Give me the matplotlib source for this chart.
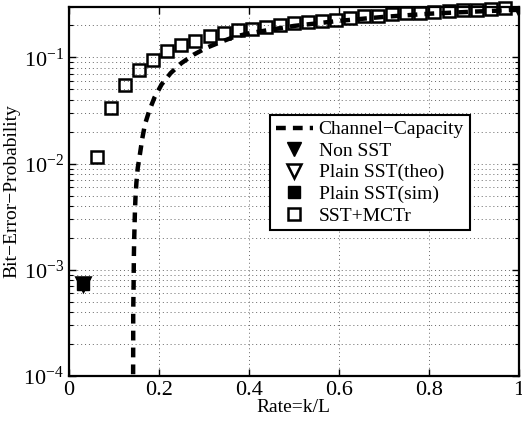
import numpy as np
import matplotlib
matplotlib.use("Agg")
import matplotlib.pyplot as plt

plt.rcParams['font.family'] = ['Liberation Serif', 'DejaVu Serif']
plt.rcParams['mathtext.fontset'] = 'stix'
plt.rcParams['font.size'] = 14

# --- data ---
L = 32
k_mctr = np.arange(2, 32)
ber_mctr = [0.0115, 0.0331, 0.0553, 0.0766, 0.095, 0.1146, 0.1315, 0.1435,
            0.1585, 0.1706, 0.1794, 0.186, 0.193, 0.204, 0.212, 0.215, 0.219,
            0.226, 0.234, 0.243, 0.248, 0.258, 0.261, 0.263, 0.267, 0.271,
            0.277, 0.281, 0.287, 0.294]
rate_mctr = k_mctr / L

rate_non = [1 / 32, 32 / 32]
ber_non = [7.3e-4, 0.277]
rate_theo = [1 / 32]
ber_theo = [7.3e-4]
rate_sim = [1 / 32]
ber_sim = [7.3e-4]

rate_cap = [0.1425, 0.1429, 0.1429, 0.1438, 0.1444, 0.145, 0.1467, 0.148, 0.150,
            0.153, 0.158, 0.163, 0.169, 0.178, 0.190, 0.206, 0.226, 0.250,
            0.278, 0.306, 0.336, 0.365, 0.398, 0.45, 0.5, 0.6, 0.7, 0.8, 0.9, 1.0]
ber_cap = [5e-5, 2.04e-4, 3.94e-4, 7.3e-4, 1.35e-3, 1.87e-3, 3.5e-3, 4.85e-3,
           6.6e-3, 9.1e-3, 0.0124, 0.0172, 0.0234, 0.031, 0.0418, 0.0557,
           0.0711, 0.0884, 0.1067, 0.1233, 0.139, 0.155, 0.168, 0.183, 0.198,
           0.221, 0.241, 0.258, 0.270, 0.281]

fig = plt.figure(figsize=(5.22, 4.23), dpi=100)
ax = fig.add_axes([0.132, 0.111, 0.862, 0.873])

ax.semilogy(rate_cap, ber_cap, color='k', lw=3.2, linestyle=(0, (2.2, 1.6)),
            label='Channel\u2212Capacity')
ax.semilogy(rate_non, ber_non, linestyle='none', marker='v', ms=10, mfc='k',
            mec='k', label='Non SST', zorder=5)
ax.semilogy(rate_theo, ber_theo, linestyle='none', marker='v', ms=10, mfc='none',
            mec='k', mew=1.8, label='Plain SST(theo)')
ax.semilogy(rate_sim, ber_sim, linestyle='none', marker='s', ms=8, mfc='k',
            mec='k', label='Plain SST(sim)')
ax.semilogy(rate_mctr, ber_mctr, linestyle='none', marker='s', ms=8, mfc='none',
            mec='k', mew=1.8, label='SST+MCTr', clip_on=False)

ax.set_xlim(0, 1)
ax.set_ylim(1e-4, 0.3)
ax.set_xticks([0, 0.2, 0.4, 0.6, 0.8, 1])
ax.set_xticklabels(['0', '0.2', '0.4', '0.6', '0.8', '1'])
ax.set_yticks([1e-4, 1e-3, 1e-2, 1e-1])

ax.grid(True, which='major', linestyle=(0, (1, 3)), color='#666666', lw=0.7)
ax.grid(True, which='minor', axis='y', linestyle=(0, (1, 3)), color='#666666', lw=0.7)
ax.tick_params(which='both', direction='in', top=True, right=True, labelsize=16)
ax.tick_params(which='major', length=5, width=1)
ax.tick_params(which='minor', length=3, width=0.8)
for s in ax.spines.values():
    s.set_linewidth(1.6)

ax.set_xlabel('Rate=k/L', fontsize=14, labelpad=-1)
ax.set_ylabel('Bit\u2212Error\u2212Probability', fontsize=14, labelpad=2)

leg = ax.legend(loc='upper left', bbox_to_anchor=(0.447, 0.707), fontsize=14,
                fancybox=False, framealpha=1, edgecolor='k', borderpad=0.3,
                labelspacing=0.2, handlelength=1.9, handletextpad=0.3,
                borderaxespad=0)
leg.get_frame().set_linewidth(1.5)

fig.savefig('out.png', dpi=100)
